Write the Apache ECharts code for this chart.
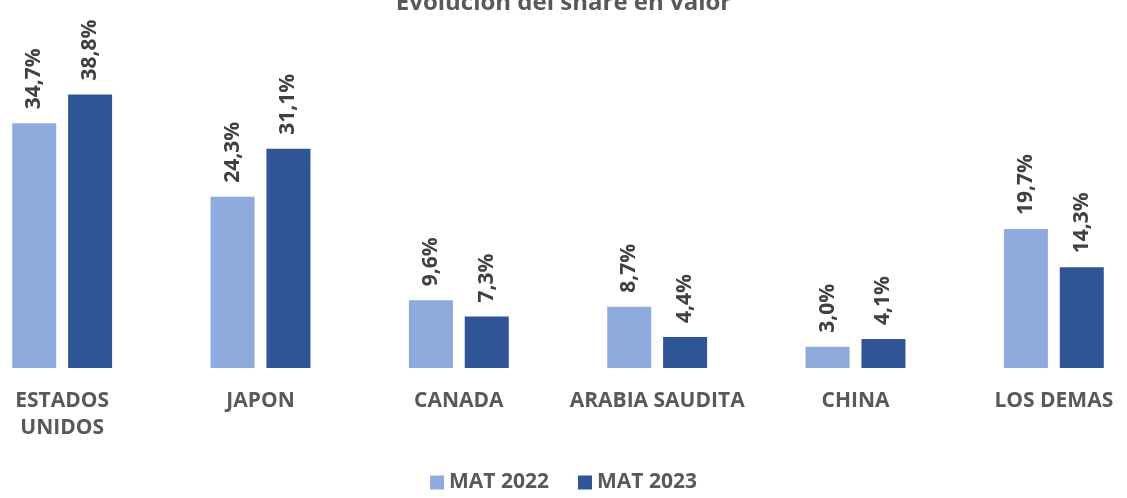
<html>
    <head>
        <meta charset="utf-8">
        <script src='https://cdn.jsdelivr.net/npm/echarts@6/dist/echarts.min.js'></script>
    </head>
    <body>
        <style>
            html, body, #main {
                width: 100%;
                height: 100%;
                margin: 0;
                background: #fff;
            }
        </style>
        <div id='main'></div>
        <script>
            var categories = ['ESTADOS\nUNIDOS', 'JAPON', 'CANADA', 'ARABIA SAUDITA', 'CHINA', 'LOS DEMAS'];
            var mat2022 = [34.7, 24.3, 9.6, 8.7, 3.0, 19.7];
            var mat2023 = [38.8, 31.1, 7.3, 4.4, 4.1, 14.3];

            var chart = echarts.init(document.getElementById('main'));

            var fontFamily = '"Open Sans", sans-serif';

            function pctLabel() {
                return {
                    show: true,
                    position: 'top',
                    rotate: 90,
                    align: 'left',
                    verticalAlign: 'middle',
                    distance: 14,
                    color: '#404040',
                    fontFamily: fontFamily,
                    fontWeight: 'bold',
                    fontSize: 21,
                    formatter: function (p) {
                        return p.value.toFixed(1).replace('.', ',') + '%';
                    }
                };
            }

            var option = {
                animation: false,
                title: {
                    text: 'Evolución del share en valor',
                    left: 'center',
                    top: -14,
                    textStyle: {
                        color: '#595959',
                        fontFamily: fontFamily,
                        fontWeight: 'bold',
                        fontSize: 24
                    }
                },
                legend: {
                    bottom: 0,
                    left: 'center',
                    itemWidth: 14,
                    itemHeight: 14,
                    itemGap: 29,
                    icon: 'rect',
                    textStyle: {
                        color: '#595959',
                        fontFamily: fontFamily,
                        fontWeight: 'bold',
                        fontSize: 21
                    },
                    data: ['MAT 2022', 'MAT 2023']
                },
                grid: {
                    left: -37,
                    right: -26,
                    top: 86,
                    height: 282,
                    outerBoundsMode: 'none'
                },
                xAxis: {
                    type: 'category',
                    data: categories,
                    axisLine: { show: false },
                    axisTick: { show: false },
                    axisLabel: {
                        margin: 20,
                        interval: 0,
                        color: '#595959',
                        fontFamily: fontFamily,
                        fontWeight: 'bold',
                        fontSize: 21,
                        lineHeight: 27
                    }
                },
                yAxis: {
                    type: 'value',
                    min: 0,
                    max: 40,
                    show: false,
                    splitLine: { show: false }
                },
                series: [
                    {
                        name: 'MAT 2022',
                        type: 'bar',
                        data: mat2022,
                        barWidth: 44,
                        barGap: '27%',
                        itemStyle: { color: '#8FAADC' },
                        label: pctLabel()
                    },
                    {
                        name: 'MAT 2023',
                        type: 'bar',
                        data: mat2023,
                        barWidth: 44,
                        itemStyle: { color: '#2F5597' },
                        label: pctLabel()
                    }
                ]
            };

            chart.setOption(option);

            window.onresize = function () {
                chart.resize();
            }
        </script>
    </body>
</html>
